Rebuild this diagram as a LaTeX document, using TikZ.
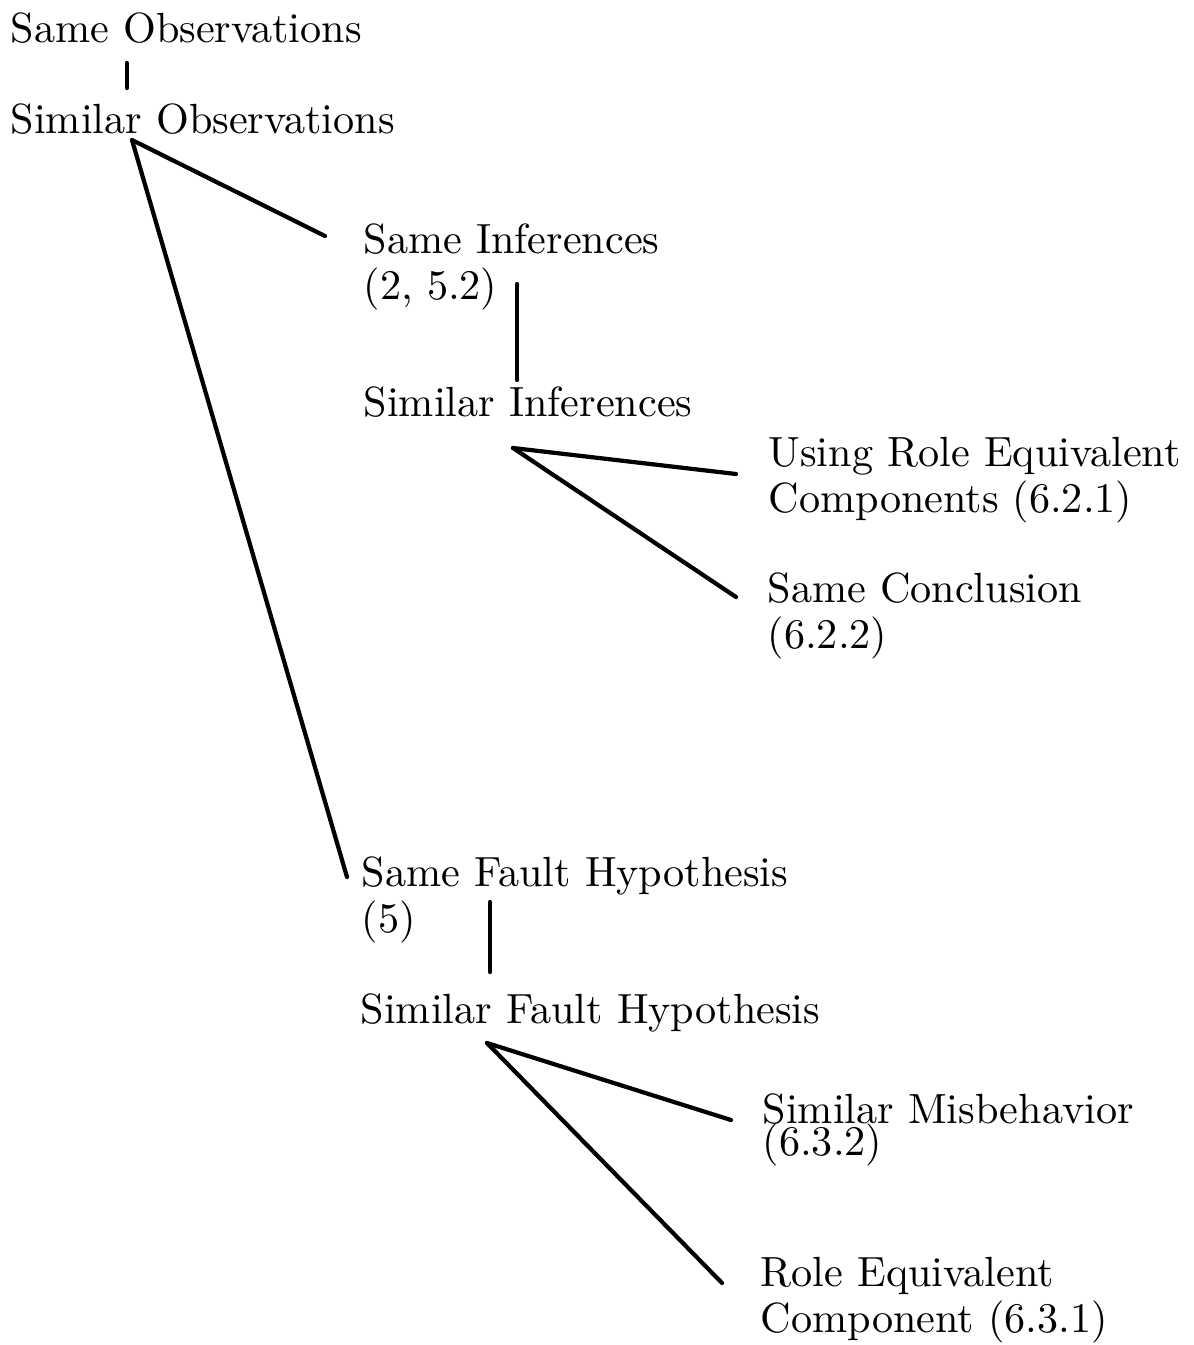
\documentclass[tikz,border=0pt]{standalone}
\usepackage{fontspec}
\setmainfont{lmroman10-regular.otf}
\tikzset{
  lbl/.style={anchor=base west, inner sep=0pt, align=left,
    font=\fontsize{12}{12.9}\selectfont},
  edge/.style={line width=1.2pt, line cap=round}
}
\begin{document}
\begin{tikzpicture}[x=0.01cm, y=-0.01cm]
    \useasboundingbox (0,0) rectangle (1193,1345);

    % observations
    \node[lbl] (sameobs) at (10,42) {Same Observations};
    \node[lbl] (simobs) at (10,133) {Similar Observations};

    % inferences
    \node[lbl] (sameinf) at (363,299) {Same Inferences\\(2, 5.2)};
    \node[lbl] (siminf) at (363,416) {Similar Inferences};
    \node[lbl] (userole) at (768,512) {Using Role Equivalent\\Components (6.2.1)};
    \node[lbl] (samecon) at (767,648) {Same Conclusion\\(6.2.2)};

    % fault hypotheses
    \node[lbl] (samefault) at (361,932) {Same Fault Hypothesis\\(5)};
    \node[lbl] (simfault) at (360,1023) {Similar Fault Hypothesis};
    \node[lbl] (simmis) at (762,1155) {Similar Misbehavior\\[-3.8pt](6.3.2)};
    \node[lbl] (roleeq) at (760,1332) {Role Equivalent\\Component (6.3.1)};

    \draw[edge] ([shift={(117,21)}]sameobs.base west) -- ([shift={(117,-45)}]simobs.base west);
    \draw[edge] ([shift={(122,7)}]simobs.base west) -- ([shift={(-38,-63)}]sameinf.base west);
    \draw[edge] ([shift={(122,7)}]simobs.base west) -- ([shift={(-14,-55)}]samefault.base west);

    \draw[edge] ([shift={(154,-15)}]sameinf.base west) -- ([shift={(154,-36)}]siminf.base west);
    \draw[edge] ([shift={(150,32)}]siminf.base west) -- ([shift={(-32,-38)}]userole.base west);
    \draw[edge] ([shift={(150,32)}]siminf.base west) -- ([shift={(-31,-51)}]samecon.base west);

    \draw[edge] ([shift={(129,-30)}]samefault.base west) -- ([shift={(130,-51)}]simfault.base west);
    \draw[edge] ([shift={(127,20)}]simfault.base west) -- ([shift={(-31,-35)}]simmis.base west);
    \draw[edge] ([shift={(127,20)}]simfault.base west) -- ([shift={(-38,-49)}]roleeq.base west);
\end{tikzpicture}
\end{document}
